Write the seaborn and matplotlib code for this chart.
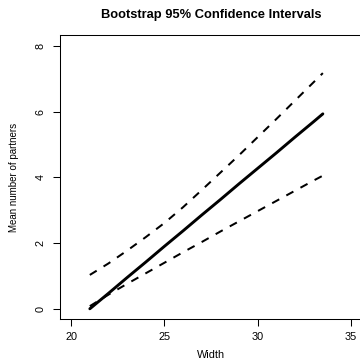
import matplotlib

matplotlib.use("Agg")
import matplotlib.pyplot as plt
import pandas as pd
import seaborn as sns


WIDTH = [21, 22, 23, 24, 25, 26, 27, 28, 29, 30, 31, 32, 33, 33.5]
FIT = [0.00, 0.47, 0.95, 1.42, 1.90, 2.37, 2.85, 3.32, 3.80, 4.27, 4.74, 5.22, 5.69, 5.93]
UPPER = [1.03, 1.38, 1.77, 2.18, 2.61, 3.09, 3.61, 4.14, 4.67, 5.22, 5.77, 6.33, 6.89, 7.17]
LOWER = [0.08, 0.43, 0.76, 1.08, 1.40, 1.72, 2.03, 2.35, 2.66, 2.97, 3.28, 3.59, 3.90, 4.05]

X_TICKS = [20, 25, 30, 35]
Y_TICKS = [0, 2, 4, 6, 8]


def main() -> None:
    sns.set_theme(style="white")
    plt.rcParams["font.family"] = ["Liberation Sans", "DejaVu Sans"]
    plt.rcParams["text.color"] = "black"
    plt.rcParams["axes.labelcolor"] = "black"
    plt.rcParams["xtick.color"] = "black"
    plt.rcParams["ytick.color"] = "black"

    df = pd.DataFrame({"width": WIDTH, "fit": FIT, "upper": UPPER, "lower": LOWER})

    fig = plt.figure(figsize=(3.6, 3.6), dpi=100)
    ax = fig.add_axes([60 / 360, 40.7 / 360, 302 / 360, 284 / 360])

    sns.lineplot(data=df, x="width", y="fit", color="black", linewidth=2.1, ax=ax)
    for col in ["upper", "lower"]:
        sns.lineplot(
            data=df, x="width", y=col, color="black", linewidth=1.45,
            dashes=False, ax=ax,
        )
    for line in ax.lines[1:]:
        line.set_dashes((4, 4))

    ax.set_xlim(19.4, 35.6)
    ax.set_ylim(-0.32, 8.32)
    ax.set_xticks(X_TICKS)
    ax.set_yticks(Y_TICKS)
    ax.set_xticklabels([str(t) for t in X_TICKS], fontsize=7.8)
    ax.set_yticklabels([str(t) for t in Y_TICKS], fontsize=7.8, rotation=90, va="center")
    ax.tick_params(direction="out", length=5, width=0.75, color="black",
                   labelcolor="black", bottom=True, left=True)
    ax.tick_params(axis="x", pad=4.2)
    ax.tick_params(axis="y", pad=5.2)
    for spine in ax.spines.values():
        spine.set_color("black")
        spine.set_linewidth(0.75)

    ax.set_xlabel("Width", fontsize=7.8, labelpad=6, color="black")
    ax.set_ylabel("Mean number of partners", fontsize=7, labelpad=12, color="black")
    ax.set_title("Bootstrap 95% Confidence Intervals", fontsize=9.3, color="black",
                 fontweight="bold", x=(211 - 60) / 302, pad=12.5)

    fig.savefig("out.png", dpi=100)
    plt.close(fig)


if __name__ == "__main__":
    main()
